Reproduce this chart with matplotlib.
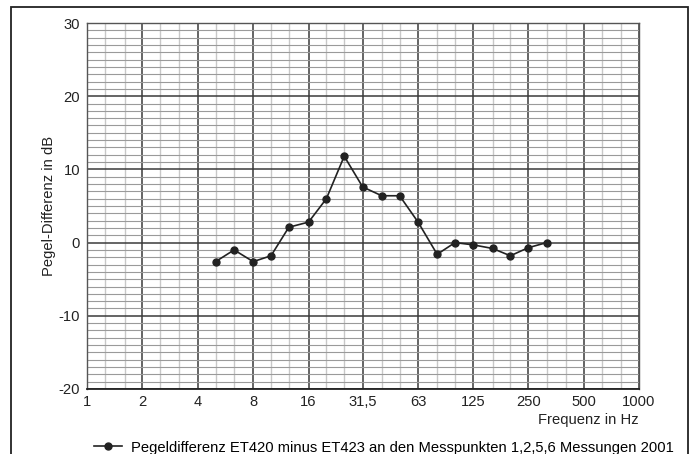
import matplotlib
matplotlib.use("Agg")
import matplotlib.pyplot as plt
from matplotlib.patches import Rectangle
from matplotlib.ticker import FixedLocator, NullFormatter

plt.rcParams["font.family"] = ["Liberation Sans", "DejaVu Sans"]
plt.rcParams["axes.unicode_minus"] = False

# ====== Daten ======
freq = [5, 6.3, 8, 10, 12.5, 16, 20, 25, 31.5, 40, 50, 63, 80, 100,
        125, 160, 200, 250, 315]
diff_db = [-2.6, -1.0, -2.6, -1.8, 2.1, 2.8, 6.0, 11.8, 7.6, 6.4, 6.4, 2.8,
           -1.6, 0.0, -0.3, -0.8, -1.8, -0.7, 0.0]

oct_ticks = [1, 2, 4, 8, 16, 31.5, 63, 125, 250, 500, 1000]
oct_labels = ["1", "2", "4", "8", "16", "31,5", "63", "125", "250", "500", "1000"]
terz_ticks = [1.25, 1.6, 2.5, 3.15, 5, 6.3, 10, 12.5, 20, 25, 40, 50, 80, 100,
              160, 200, 315, 400, 630, 800]
legend_text = "Pegeldifferenz ET420 minus ET423 an den Messpunkten 1,2,5,6 Messungen 2001"

fs = 10.6

# ====== Grafik ======
fig = plt.figure(figsize=(6.94, 4.54), dpi=100)
ax = fig.add_axes([0.1254, 0.1432, 0.7953, 0.8061])

ax.set_xscale("log")
ax.set_xlim(1, 1000)
ax.set_ylim(-20, 30)

ax.xaxis.set_major_locator(FixedLocator(oct_ticks))
ax.set_xticklabels(oct_labels)
ax.xaxis.set_minor_locator(FixedLocator(terz_ticks))
ax.xaxis.set_minor_formatter(NullFormatter())
ax.yaxis.set_major_locator(FixedLocator(range(-20, 31, 10)))
ax.yaxis.set_minor_locator(FixedLocator(range(-20, 31, 1)))

ax.grid(which="major", axis="both", color="#3a3a3a", lw=1.1, zorder=1)
ax.grid(which="minor", axis="y", color="#9a9a9a", lw=0.8, zorder=0)
ax.grid(which="minor", axis="x", color="#c8c8c8", lw=1.0, zorder=0)
ax.set_axisbelow(True)

for s in ax.spines.values():
    s.set_color("#555555")
    s.set_linewidth(1.0)
ax.spines["bottom"].set_color("#222222")
ax.spines["bottom"].set_linewidth(1.3)

ax.tick_params(which="both", length=0, labelsize=fs, colors="#222222")
ax.tick_params(axis="y", pad=5)
ax.tick_params(axis="x", pad=4)

line, = ax.plot(freq, diff_db, color="#222222", lw=1.2, marker="o",
                markersize=5, zorder=3)

ax.set_ylabel("Pegel-Differenz in dB", fontsize=fs, color="#222222", labelpad=2)
ax.text(1.0, -0.085, "Frequenz in Hz", transform=ax.transAxes, ha="right",
        va="center", fontsize=fs, color="#222222")

fig.legend([line], [legend_text], loc="center left",
           bbox_to_anchor=(0.127, 0.014), frameon=False, fontsize=fs,
           handlelength=1.9, handletextpad=0.6, borderaxespad=0)

fig.patches.append(Rectangle((11 / 694, -0.05), 677 / 694, 1 - 6.5 / 454 + 0.05,
                             transform=fig.transFigure, fill=False,
                             edgecolor="#222222", lw=1.3))

fig.savefig("out.png", dpi=100)
